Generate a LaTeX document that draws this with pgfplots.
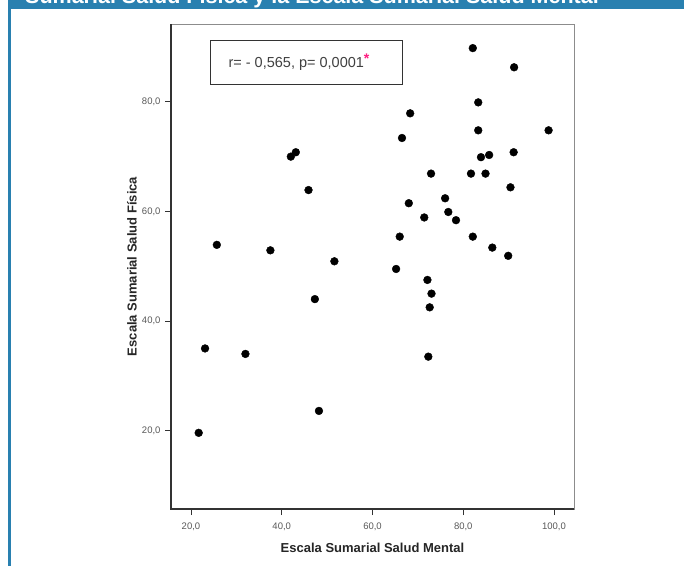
\documentclass[border=0pt]{standalone}
\usepackage{fontspec}
\setmainfont{Liberation Sans}
\usepackage{pgfplots}
\pgfplotsset{compat=1.18}

\definecolor{hdrblue}{RGB}{41,128,176}
\definecolor{starpink}{RGB}{255,30,130}

\begin{document}
\begin{tikzpicture}[x=1pt,y=1pt]
    \useasboundingbox (0,0) rectangle (684,566);
    \fill[white] (0,0) rectangle (684,566);
    % cabecera recortada
    \fill[hdrblue] (8,556.5) rectangle (684,566);
    \fill[hdrblue] (8,0) rectangle (11,566);
    \node[anchor=base west, text=white, inner sep=0pt,
          font=\fontsize{21.5}{24}\selectfont\bfseries] at (25,562.5)
          {Sumarial Salud Física y la Escala Sumarial Salud Mental};

    \begin{axis}[
        at={(171pt,57pt)}, anchor=south west,
        scale only axis,
        width=403pt, height=485pt,
        xmin=15.6, xmax=104.4,
        ymin=5.7, ymax=94.2,
        xtick={20,40,60,80,100},
        ytick={20,40,60,80},
        tick align=outside,
        major tick length=6pt,
        xtick pos=bottom, ytick pos=left,
        tick style={draw=black!80, line width=0.9pt},
        axis line style={draw=black!45, line width=0.9pt},
        /pgf/number format/.cd, fixed, fixed zerofill, precision=1, use comma,
        assume math mode=true,
        /pgfplots/.cd,
        ticklabel style={font=\fontsize{9.5}{10}\selectfont, text=black!65},
        xticklabel style={yshift=-4pt},
        yticklabel style={xshift=-1pt},
        xlabel={\bfseries Escala Sumarial Salud Mental},
        ylabel={\bfseries Escala Sumarial Salud Física},
        label style={font=\fontsize{13}{15}\selectfont, text=black!85},
        xlabel style={at={(axis description cs:0.5,-0.080)}, anchor=center},
        ylabel style={at={(axis description cs:-0.097,0.5)}, anchor=center},
        clip=false,
        ]
        \addplot[only marks, mark=*, mark size=3.9pt, draw=black, fill=black]
        coordinates {
            (82.1,89.8)(91.2,86.3)(83.3,79.9)(68.3,77.9)(98.8,74.8)
            (83.3,74.8)(66.5,73.4)(42.0,70.0)(43.1,70.8)(91.1,70.8)
            (85.7,70.3)(83.9,69.9)(45.9,63.9)(72.9,66.9)(81.7,66.9)
            (84.9,66.9)(90.4,64.4)(76.0,62.4)(68.0,61.5)(76.7,59.9)
            (71.4,58.9)(78.4,58.4)(66.0,55.4)(82.1,55.4)(86.4,53.4)
            (89.9,51.9)(65.2,49.5)(72.1,47.5)(73.0,45.0)(72.6,42.5)
            (72.3,33.5)(25.7,53.9)(37.5,52.9)(51.6,50.9)(47.3,44.0)
            (23.1,35.0)(32.0,34.0)(48.2,23.6)(21.7,19.6)
        };
        % ejes izquierdo e inferior mas oscuros
        \draw[black!80, line width=1.3pt]
            (rel axis cs:0,1) -- (rel axis cs:0,0) -- (rel axis cs:1,0);
    \end{axis}

    % cuadro de correlacion
    \draw[black!80, line width=1pt] (210,481.7) rectangle (402,525.3);
    \node[font=\fontsize{14.5}{16}\selectfont, text=black!75] at (299,504)
        {r= - 0,565, p= 0,0001\raisebox{0.5ex}{\fontsize{14}{14}\selectfont\bfseries\textcolor{starpink}{*}}};
\end{tikzpicture}
\end{document}
